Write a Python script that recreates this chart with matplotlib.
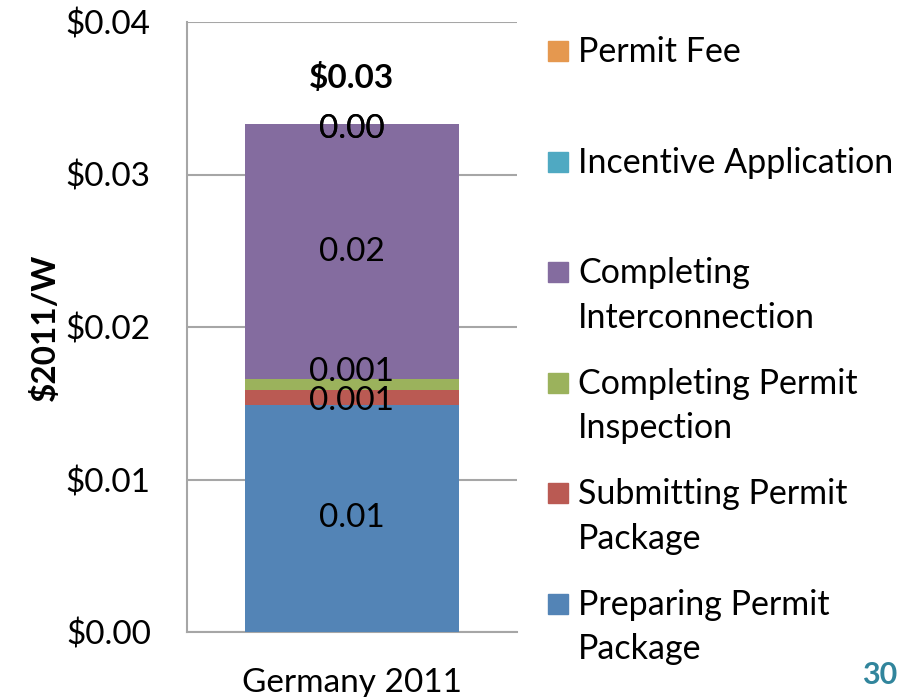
import matplotlib
matplotlib.use("Agg")
import matplotlib.pyplot as plt
from matplotlib.patches import Rectangle

plt.rcParams['font.family'] = ['Lato', 'DejaVu Sans']

category = "Germany 2011"
series = ["Preparing Permit Package", "Submitting Permit Package",
          "Completing Permit Inspection", "Completing Interconnection",
          "Incentive Application", "Permit Fee"]
legend_labels = ["Preparing Permit\nPackage", "Submitting Permit\nPackage",
                 "Completing Permit\nInspection", "Completing\nInterconnection",
                 "Incentive Application", "Permit Fee"]
values = [0.0149, 0.0010, 0.0007, 0.0167, 0.0, 0.0]
colors = ["#5384B6", "#BA5A53", "#9BB25C", "#846C9F", "#4FA9C2", "#E5984F"]
yticks = [0.0, 0.01, 0.02, 0.03, 0.04]
ytick_labels = ["$0.00", "$0.01", "$0.02", "$0.03", "$0.04"]

FS = 24

def fmt(v):
    if v == 0:
        return "0.00"
    if v < 0.01:
        return f"{v:.3f}"
    return f"{v:.2f}"

fig = plt.figure(figsize=(9.04, 6.97), dpi=100)
ax = fig.add_axes([187/904, 1-632/697, 330/904, 610/697])

bottom = 0.0
label_offsets = [0, -4, 12, 0, -5, -5]  # pixel offsets for readability
for v, c, off in zip(values, colors, label_offsets):
    ax.bar([0], [v], bottom=bottom, width=0.648, color=c, zorder=3)
    ax.annotate(fmt(v), (0, bottom + v / 2), xytext=(0, off * 0.72),
                textcoords="offset points", ha="center", va="center",
                fontsize=FS, color="black", zorder=5)
    bottom += v
total = bottom
ax.annotate(f"${total:.2f}", (0, total), xytext=(0, 33),
            textcoords="offset points", ha="center", va="center",
            fontsize=FS, fontweight="bold")

ax.set_xlim(-0.5, 0.5)
ax.set_ylim(0, 0.04)
ax.set_yticks(yticks)
ax.set_yticklabels(ytick_labels, fontsize=FS)
ax.set_xticks([0])
ax.set_xticklabels([category], fontsize=FS)
ax.tick_params(axis="y", length=0, pad=26)
ax.tick_params(axis="x", length=0, pad=26)
ax.grid(axis="y", color="#A6A6A6", lw=1.5, zorder=0)
for s in ["top", "right"]:
    ax.spines[s].set_visible(False)
for s in ["left", "bottom"]:
    ax.spines[s].set_color("#A6A6A6")
    ax.spines[s].set_linewidth(1.5)
ax.set_ylabel("$2011/W", fontsize=FS, fontweight="bold", labelpad=4)

# legend (top to bottom: Permit Fee first)
W, H = 904, 697
LFS = 24.5
for i, (lab, c) in enumerate(zip(reversed(legend_labels), reversed(colors))):
    yc = 50 + i * 110.6  # centre of the first text line, pixels from top
    fig.patches.append(Rectangle((548/W, 1 - (yc + 11)/H), 20/W, 20/H,
                                 transform=fig.transFigure, color=c))
    fig.text(578/W, 1 - (yc - 14)/H, lab, fontsize=LFS, va="top",
             ha="left", linespacing=1.48)

fig.text(880/W, 1 - 675/H, "30", fontsize=22, fontweight="bold",
         color="#31859C", ha="center", va="center")

fig.savefig("out.png", dpi=100)
